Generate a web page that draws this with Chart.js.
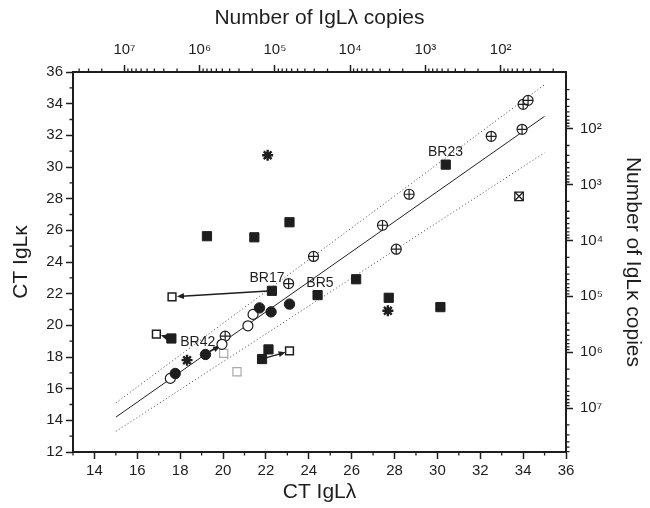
<!DOCTYPE html>
<html lang="en">
<head>
<meta charset="UTF-8">
<title>CT IgLκ vs CT IgLλ</title>
<script src="https://cdn.jsdelivr.net/npm/chart.js@4.4.1/dist/chart.umd.min.js"></script>
<style>
  html, body { margin: 0; padding: 0; background: #fff; }
  #wrap { width: 650px; height: 508px; }
</style>
</head>
<body>
<div id="wrap"><canvas id="ctChart" width="650" height="508"></canvas></div>
<script>
// CT values, [CT IgLλ, CT IgLκ]
const filledSquares = [
  [22.28, 22.18], [17.59, 19.17], [22.12, 18.48], [21.82, 17.87],
  [19.25, 25.63], [21.46, 25.56], [23.10, 26.51], [30.39, 30.15],
  [26.21, 22.91], [24.41, 21.91], [27.73, 21.74], [30.14, 21.15]
];
const openSquares = [[17.62, 21.80], [16.89, 19.44], [23.10, 18.39]];
const graySquares = [[20.03, 18.23], [20.65, 17.07]];
const filledCircles = [[21.70, 21.10], [22.24, 20.85], [23.10, 21.34], [19.18, 18.16], [17.77, 16.96]];
const openCircles = [[21.40, 20.69], [21.16, 19.97], [19.95, 18.80], [17.54, 16.65]];
const crossCircles = [
  [23.06, 22.64], [24.22, 24.35], [27.44, 26.32], [28.08, 24.81], [28.68, 28.28],
  [32.51, 31.94], [33.95, 32.38], [34.00, 33.96], [34.23, 34.21], [20.10, 19.32]
];
const asterisks = [[22.08, 30.74], [27.69, 20.92], [18.32, 17.80]];
const crossedBoxes = [[33.81, 28.15]];

// regression line and the two dotted limits
const fitLine = [[15, 14.2], [35, 33.2]];
const upperLimit = [[15, 15.1], [35, 35.2]];
const lowerLimit = [[15, 13.3], [35, 30.9]];

// arrows: [from, to]
const arrows = [
  [[22.10, 22.17], [17.85, 21.82]],
  [[17.45, 19.22], [17.10, 19.37]],
  [[21.95, 17.93], [22.92, 18.30]],
  [[19.28, 18.27], [19.87, 18.69]],
  [[21.66, 21.00], [21.48, 20.78]]
];

// sample labels
const labelText = ['BR17', 'BR5', 'BR23', 'BR42'];
const labelPos = [[22.05, 23.00], [24.52, 22.69], [30.38, 30.96], [18.82, 18.91]];

// copy-number axes: CT at 10^7 copies and CT per decade
const lambdaCT7 = 15.40, lambdaSlope = 3.51;
const kappaCT7 = 14.77, kappaSlope = 3.53;
const copyTicks = [1e2, 1e3, 1e4, 1e5, 1e6, 1e7];

const xMin = 13, xMax = 36, yMin = 12, yMax = 36;

const sup = { '0': '⁰', '1': '¹', '2': '²', '3': '³', '4': '⁴', '5': '⁵', '6': '⁶', '7': '⁷', '8': '⁸', '9': '⁹' };
function powLabel(v) {
  const e = Math.round(Math.log10(v));
  return '10' + String(e).split('').map(c => sup[c]).join('');
}
const toXY = arr => arr.map(p => ({ x: p[0], y: p[1] }));

const ink = '#1e1e1e';
Chart.defaults.font.family = "'Liberation Sans', Arial, sans-serif";
Chart.defaults.color = ink;

// small ticks that chart.js cannot draw shorter than the major ones
const minorTicks = {
  id: 'minorTicks',
  afterDraw(chart) {
    const { ctx, scales } = chart;
    const len = 3.5;
    ctx.save();
    ctx.strokeStyle = ink;
    ctx.lineWidth = 1.3;
    ctx.beginPath();
    for (let v = 13; v <= 35; v += 2) {
      const px = scales.x.getPixelForValue(v);
      ctx.moveTo(px, scales.x.top); ctx.lineTo(px, scales.x.top + len);
      const py = scales.y.getPixelForValue(v);
      ctx.moveTo(scales.y.right - len, py); ctx.lineTo(scales.y.right, py);
    }
    for (let e = 0; e < 8; e++) {
      for (let m = 2; m <= 9; m++) {
        const v = m * Math.pow(10, e);
        const t = scales.xTop, r = scales.yRight;
        if (v > t.min && v < t.max) {
          const px = t.getPixelForValue(v);
          ctx.moveTo(px, t.bottom - len); ctx.lineTo(px, t.bottom);
        }
        if (v > r.min && v < r.max) {
          const py = r.getPixelForValue(v);
          ctx.moveTo(r.left, py); ctx.lineTo(r.left + len, py);
        }
      }
    }
    ctx.stroke();
    ctx.restore();
  }
};

const annotations = {
  id: 'annotations',
  beforeDatasetsDraw(chart) {
    const { ctx, scales } = chart;
    ctx.save();
    ctx.strokeStyle = ink;
    ctx.fillStyle = ink;
    ctx.lineWidth = 1.4;
    arrows.forEach(([a, b]) => {
      const x1 = scales.x.getPixelForValue(a[0]), y1 = scales.y.getPixelForValue(a[1]);
      const x2 = scales.x.getPixelForValue(b[0]), y2 = scales.y.getPixelForValue(b[1]);
      const ang = Math.atan2(y2 - y1, x2 - x1), h = 7, w = 3;
      const c = Math.cos(ang), s = Math.sin(ang);
      ctx.beginPath();
      ctx.moveTo(x1, y1);
      ctx.lineTo(x2 - c * h * 0.7, y2 - s * h * 0.7);
      ctx.stroke();
      ctx.beginPath();
      ctx.moveTo(x2, y2);
      ctx.lineTo(x2 - c * h + s * w, y2 - s * h - c * w);
      ctx.lineTo(x2 - c * h - s * w, y2 - s * h + c * w);
      ctx.closePath();
      ctx.fill();
    });
    ctx.restore();
  },
  afterDatasetsDraw(chart) {
    const { ctx, scales } = chart;
    ctx.save();
    ctx.fillStyle = ink;
    ctx.font = "14px 'Liberation Sans', Arial, sans-serif";
    ctx.textAlign = 'center';
    ctx.textBaseline = 'middle';
    labelText.forEach((t, i) => {
      ctx.fillText(t, scales.x.getPixelForValue(labelPos[i][0]), scales.y.getPixelForValue(labelPos[i][1]));
    });
    ctx.restore();
  }
};

function lineSet(data, dash, color, order) {
  return {
    data: toXY(data), showLine: true, pointRadius: 0, borderColor: color,
    borderWidth: 1, borderDash: dash, order: order
  };
}
function pointSet(data, style, radius, fill, stroke, width, order) {
  return {
    data: toXY(data), pointStyle: style, pointRadius: radius, backgroundColor: fill,
    borderColor: stroke, pointBorderWidth: width, borderWidth: width, order: order
  };
}

const tickLen = 7;
const majorLinear = ctx => (ctx.tick && ctx.tick.value % 2 === 0) ? ink : 'rgba(0,0,0,0)';
const tickFont = { size: 15 };
const titleFont = { size: 21 };

new Chart(document.getElementById('ctChart'), {
  type: 'scatter',
  data: {
    datasets: [
      lineSet(fitLine, [], '#222', 30),
      lineSet(upperLimit, [1, 2.5], '#444', 31),
      lineSet(lowerLimit, [1, 2.5], '#444', 32),
      pointSet(graySquares, 'rect', 5.8, '#fff', '#aaa', 1.2, 12),
      pointSet(crossCircles, 'circle', 5, '#fff', ink, 1.2, 11),
      pointSet(crossCircles, 'cross', 5, '#fff', ink, 1.2, 10),
      pointSet(openCircles, 'circle', 5, '#fff', ink, 1.2, 9),
      pointSet(filledCircles, 'circle', 5.2, ink, ink, 1, 8),
      pointSet(crossedBoxes, 'rect', 6, '#fff', ink, 1.3, 7),
      pointSet(crossedBoxes, 'crossRot', 6, '#fff', ink, 1.3, 6),
      pointSet(openSquares, 'rect', 5.5, '#fff', ink, 1.5, 5),
      pointSet(filledSquares, 'rect', 6.5, ink, ink, 1, 4),
      pointSet(asterisks, 'star', 5.5, ink, ink, 2.4, 3)
    ]
  },
  options: {
    responsive: false,
    animation: false,
    events: [],
    layout: { padding: 0, autoPadding: false },
    plugins: { legend: { display: false }, tooltip: { enabled: false } },
    scales: {
      x: {
        type: 'linear', position: 'bottom', min: xMin, max: xMax,
        afterFit: s => { s.height = 56; },
        border: { display: true, color: ink, width: 2 },
        grid: { drawOnChartArea: false, tickLength: tickLen, tickWidth: 1.5, tickColor: majorLinear },
        ticks: {
          stepSize: 1, autoSkip: false, maxRotation: 0, padding: 3, font: tickFont,
          callback: v => (v % 2 === 0 && v >= 14) ? String(v) : ''
        },
        title: { display: true, text: 'CT IgLλ', font: titleFont, padding: { top: 0, bottom: 3 } }
      },
      y: {
        type: 'linear', position: 'left', min: yMin, max: yMax,
        afterFit: s => { s.width = 73; },
        border: { display: true, color: ink, width: 2 },
        grid: { drawOnChartArea: false, tickLength: tickLen, tickWidth: 1.5, tickColor: majorLinear },
        ticks: {
          stepSize: 1, autoSkip: false, padding: 3, font: tickFont,
          callback: v => v % 2 === 0 ? String(v) : ''
        },
        title: { display: true, text: 'CT IgLκ', font: titleFont, padding: { top: 9, bottom: 0 } }
      },
      xTop: {
        type: 'logarithmic', position: 'top', reverse: true,
        min: Math.pow(10, 7 - (xMax - lambdaCT7) / lambdaSlope),
        max: Math.pow(10, 7 + (lambdaCT7 - xMin) / lambdaSlope),
        afterFit: s => { s.height = 72; },
        afterBuildTicks: s => { s.ticks = copyTicks.map(v => ({ value: v, major: true })); },
        border: { display: true, color: ink, width: 2 },
        grid: { drawOnChartArea: false, tickLength: tickLen, tickWidth: 1.5, tickColor: ink },
        ticks: { autoSkip: false, maxRotation: 0, padding: 6, font: tickFont, callback: v => powLabel(v) },
        title: { display: true, text: 'Number of IgLλ copies', font: titleFont, padding: { top: 6, bottom: 0 } }
      },
      yRight: {
        type: 'logarithmic', position: 'right', reverse: true,
        min: Math.pow(10, 7 - (yMax - kappaCT7) / kappaSlope),
        max: Math.pow(10, 7 + (kappaCT7 - yMin) / kappaSlope),
        afterFit: s => { s.width = 84; },
        afterBuildTicks: s => { s.ticks = copyTicks.map(v => ({ value: v, major: true })); },
        border: { display: true, color: ink, width: 2 },
        grid: { drawOnChartArea: false, tickLength: tickLen, tickWidth: 1.5, tickColor: ink },
        ticks: { autoSkip: false, padding: 7, font: tickFont, callback: v => powLabel(v) },
        title: { display: true, text: 'Number of IgLκ copies', font: titleFont, padding: { top: 5, bottom: 0 } }
      }
    }
  },
  plugins: [minorTicks, annotations]
});
</script>
</body>
</html>
